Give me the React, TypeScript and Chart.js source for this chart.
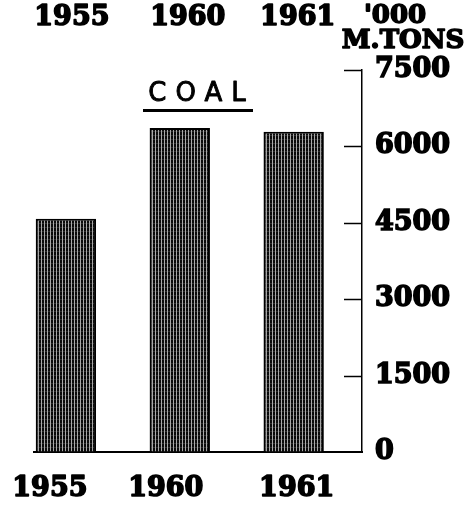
import React, { useEffect, useRef } from "react";
import { Chart, registerables } from "chart.js";

Chart.register(...registerables);

const categories = ["1955", "1960", "1961"];
const coalValues = [4580, 6360, 6290];
const yTicks = [0, 1500, 3000, 4500, 6000, 7500];
const chartTitle = "COAL";
const unitLines = ["'000", "M.TONS"];

export default function App() {
  const ref = useRef<HTMLCanvasElement>(null);

  useEffect(() => {
    document.body.style.margin = "0";
    const canvas = ref.current!;
    const pc = document.createElement("canvas");
    pc.width = 3;
    pc.height = 4;
    const p = pc.getContext("2d")!;
    p.fillStyle = "#0a0a0a";
    p.fillRect(0, 0, 3, 4);
    p.fillStyle = "#a8a8a8";
    p.fillRect(2, 0, 1, 4);
    p.fillStyle = "rgba(255,255,255,0.15)";
    p.fillRect(0, 3, 2, 1);
    const pattern = canvas.getContext("2d")!.createPattern(pc, "repeat");

    const SERIF = "'DejaVu Serif', serif";
    const SANS = "'DejaVu Sans', sans-serif";

    const heavyText = (ctx: CanvasRenderingContext2D, s: string, x: number, y: number) => {
      ctx.lineWidth = 1.6;
      ctx.lineJoin = "round";
      ctx.strokeText(s, x, y);
      ctx.fillText(s, x, y);
    };

    const decor = {
      id: "decor",
      afterDraw(chart: any) {
        const { ctx, chartArea, scales } = chart;
        const xs = scales.x;
        const ys = scales.y;
        ctx.save();
        // inward tick marks
        ctx.strokeStyle = "#000";
        ctx.lineWidth = 1.5;
        for (const t of ys.ticks) {
          if (t.value === 0) continue;
          const py = Math.round(ys.getPixelForValue(t.value)) + 0.5;
          ctx.beginPath();
          ctx.moveTo(chartArea.right - 18, py);
          ctx.lineTo(chartArea.right, py);
          ctx.stroke();
        }
        ctx.fillStyle = "#000";
        ctx.strokeStyle = "#000";
        ctx.textBaseline = "middle";
        ctx.textAlign = "center";
        ctx.font = `bold 27px ${SERIF}`;
        const topOff = [6, 8, 4];
        const botOff = [-16, -14, 3];
        categories.forEach((c, i) => {
          const px = xs.getPixelForValue(i);
          heavyText(ctx, c, px + topOff[i], 18);
          heavyText(ctx, c, px + botOff[i], 489);
        });
        // unit label
        ctx.font = `bold 26px ${SERIF}`;
        heavyText(ctx, unitLines[0], chartArea.right + 33, 16);
        heavyText(ctx, unitLines[1], chartArea.right + 41, 41);
        // title
        ctx.font = `26px ${SANS}`;
        (ctx as any).letterSpacing = "9px";
        ctx.textAlign = "left";
        const w = ctx.measureText(chartTitle).width - 9;
        const cx = 197;
        ctx.lineWidth = 0.9;
        ctx.strokeText(chartTitle, cx - w / 2, 94);
        ctx.fillText(chartTitle, cx - w / 2, 94);
        (ctx as any).letterSpacing = "0px";
        ctx.lineWidth = 3;
        ctx.beginPath();
        ctx.moveTo(143, 110.5);
        ctx.lineTo(253, 110.5);
        ctx.stroke();
        ctx.restore();
      },
    };

    const chart = new Chart(canvas, {
      type: "bar",
      data: {
        datasets: [
          {
            data: categories.map((c, i) => ({ x: i, y: coalValues[i] })),
            backgroundColor: pattern as any,
            borderColor: "#000",
            borderWidth: 2,
            borderSkipped: "bottom",
            barPercentage: 0.53,
            categoryPercentage: 1,
          },
        ],
      },
      options: {
        animation: false,
        responsive: false,
        devicePixelRatio: 1,
        layout: { padding: { left: 34, top: 70, bottom: 53, right: 0 } },
        plugins: { legend: { display: false }, tooltip: { enabled: false }, title: { display: false } },
        scales: {
          x: {
            type: "linear",
            min: -0.28,
            max: 2.6,
            offset: false,
            afterBuildTicks: (s: any) => {
              s.ticks = categories.map((c, i) => ({ value: i }));
            },
            ticks: { display: false },
            grid: { display: true, drawOnChartArea: false, drawTicks: false },
            border: { display: true, color: "#000", width: 2 },
            afterFit: (s: any) => {
              s.height = 0;
            },
          },
          y: {
            position: "right",
            min: 0,
            max: 7500,
            afterBuildTicks: (s: any) => {
              s.ticks = yTicks.map((v) => ({ value: v }));
            },
            ticks: {
              color: "#000",
              padding: 13,
              font: { family: SERIF, size: 27, weight: "bold" },
              textStrokeColor: "#000",
              textStrokeWidth: 1.6,
              callback: (v: any) => String(v),
            },
            grid: { display: true, drawOnChartArea: false, drawTicks: false },
            border: { display: true, color: "#000", width: 1.5 },
            afterFit: (s: any) => {
              s.width = 111;
            },
          },
        },
      },
      plugins: [decor],
    });
    return () => chart.destroy();
  }, []);

  return <canvas ref={ref} width={473} height={505} style={{ display: "block" }} />;
}
